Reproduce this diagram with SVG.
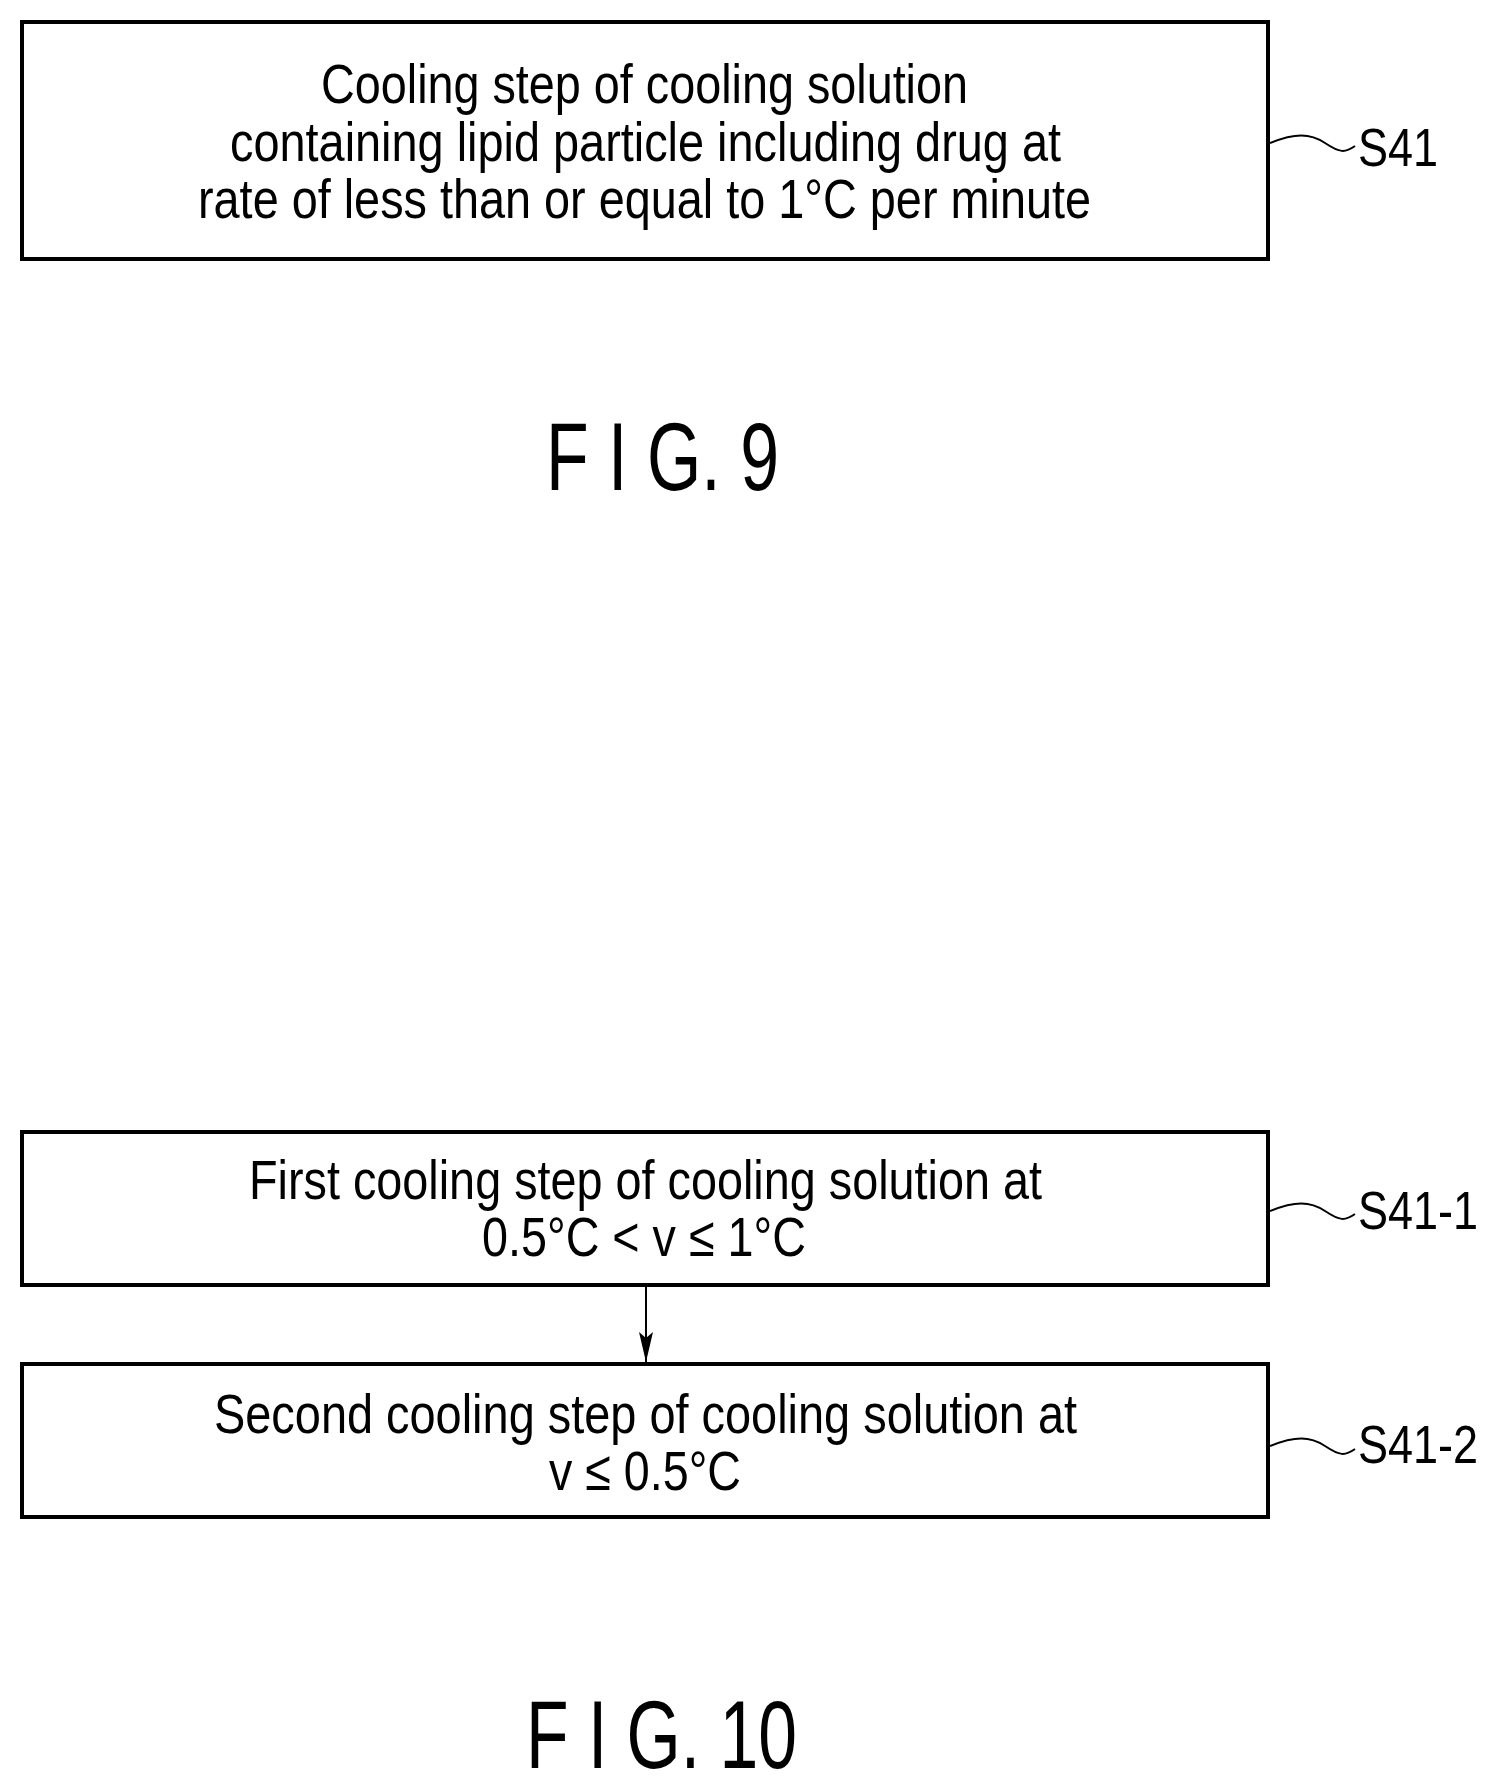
<svg xmlns="http://www.w3.org/2000/svg" width="1497" height="1784" viewBox="0 0 1497 1784">
<style>
.box{fill:#fff;stroke:#000;stroke-width:4}
.t{font-family:"Liberation Sans",Arial,sans-serif;font-size:56px;fill:#000}
.lbl{font-family:"Liberation Sans",Arial,sans-serif;font-size:54px;fill:#000}
.fig{font-family:"Liberation Sans",Arial,sans-serif;font-size:96px;fill:#000}
.sq{fill:none;stroke:#000;stroke-width:2}
</style>
<defs><marker id="ah" markerWidth="30" markerHeight="14" refX="30" refY="7" orient="auto" markerUnits="userSpaceOnUse" viewBox="0 0 30 14"><path d="M0,0 L30,7 L0,14 L6,7 Z" fill="#000"/></marker></defs>
<rect width="1497" height="1784" fill="#fff"/>
<g id="S41">
<rect class="box" x="22" y="22" width="1246" height="237"/>
<text class="t" x="321" y="103" textLength="647" lengthAdjust="spacingAndGlyphs">Cooling step of cooling solution</text>
<text class="t" x="230" y="161" textLength="831" lengthAdjust="spacingAndGlyphs">containing lipid particle including drug at</text>
<text class="t" x="198" y="218" textLength="893" lengthAdjust="spacingAndGlyphs">rate of less than or equal to 1°C per minute</text>
<path class="sq" d="M1270,143 C1295,133 1310,133 1325,143 S1345,153 1355,146"/>
<text class="lbl" x="1358" y="166" textLength="80" lengthAdjust="spacingAndGlyphs">S41</text>
</g>
<text class="fig" x="546" y="490" textLength="233" lengthAdjust="spacingAndGlyphs">F I G. 9</text>
<g id="S41-1">
<rect class="box" x="22" y="1132" width="1246" height="153"/>
<text class="t" x="249" y="1199" textLength="793" lengthAdjust="spacingAndGlyphs">First cooling step of cooling solution at</text>
<text class="t" x="482" y="1256" textLength="324" lengthAdjust="spacingAndGlyphs">0.5°C &lt; v ≤ 1°C</text>
<path class="sq" d="M1270,1211 C1295,1201 1310,1201 1325,1211 S1345,1221 1355,1214"/>
<text class="lbl" x="1358" y="1229" textLength="120" lengthAdjust="spacingAndGlyphs">S41-1</text>
</g>
<g id="S41-2">
<rect class="box" x="22" y="1364" width="1246" height="153"/>
<text class="t" x="214" y="1433" textLength="863" lengthAdjust="spacingAndGlyphs">Second cooling step of cooling solution at</text>
<text class="t" x="549" y="1490" textLength="192" lengthAdjust="spacingAndGlyphs">v ≤ 0.5°C</text>
<path class="sq" d="M1270,1446 C1295,1436 1310,1436 1325,1446 S1345,1456 1355,1449"/>
<text class="lbl" x="1358" y="1463" textLength="120" lengthAdjust="spacingAndGlyphs">S41-2</text>
</g>
<g id="connectors">
<line x1="646" y1="1287" x2="646" y2="1362" stroke="#000" stroke-width="2" marker-end="url(#ah)"/>
</g>
<text class="fig" x="526" y="1768" textLength="271" lengthAdjust="spacingAndGlyphs">F I G. 10</text>
</svg>
